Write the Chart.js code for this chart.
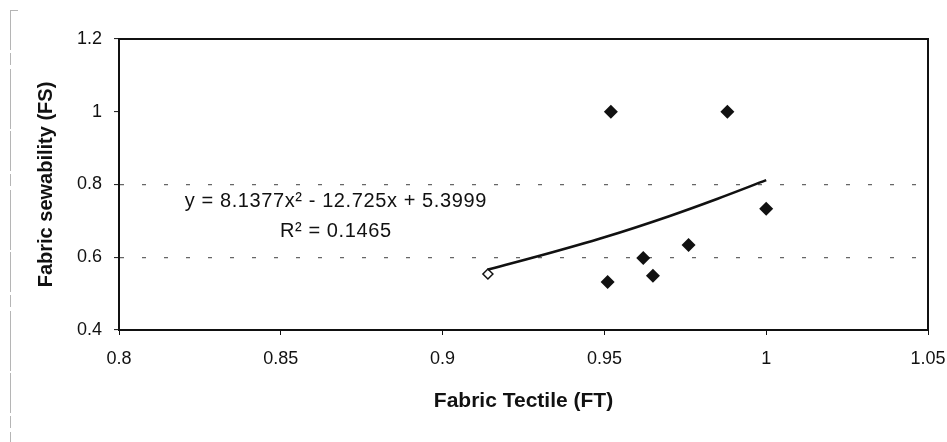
<!DOCTYPE html>
<html><head><meta charset="utf-8">
<script src="https://cdn.jsdelivr.net/npm/chart.js@4/dist/chart.umd.min.js"></script>
<style>html,body{margin:0;padding:0;background:#fff;} #wrap{width:947px;height:442px;position:relative;}</style>
</head><body><div id="wrap"><canvas id="c" width="947" height="442"></canvas></div>
<script>
// ---- data ----
const fabricTectile    = [0.952, 0.988, 1.0, 0.976, 0.965, 0.962, 0.951];
const fabricSewability = [1.0, 1.0, 0.733, 0.634, 0.549, 0.598, 0.532];
const openPointX = [0.914];
const openPointY = [0.554];
const trendX = [0.914, 0.93, 0.95, 0.97, 0.985, 1.0];
const trendY = [0.566, 0.604, 0.655, 0.713, 0.761, 0.812];
const xTickValues = [0.8, 0.85, 0.9, 0.95, 1, 1.05];
const xTickLabels = ['0.8', '0.85', '0.9', '0.95', '1', '1.05'];
const yTickValues = [0.4, 0.6, 0.8, 1.0, 1.2];
const yTickLabels = ['0.4', '0.6', '0.8', '1', '1.2'];
const gridValues = [0.6, 0.8];
const equationLines = ['y = 8.1377x\u00B2 - 12.725x + 5.3999', 'R\u00B2 = 0.1465'];
const xTitle = 'Fabric Tectile (FT)';
const yTitle = 'Fabric sewability (FS)';

const zip = (a, b) => a.map((v, i) => ({x: v, y: b[i]}));
const FONT = '"Liberation Sans", Arial, sans-serif';
const INK = '#111';

const framePlugin = {
  id: 'frame',
  beforeDatasetsDraw(chart) {
    const {ctx, chartArea: a} = chart;
    ctx.save();
    ctx.strokeStyle = INK; ctx.lineWidth = 2;
    ctx.strokeRect(a.left, a.top, a.right - a.left, a.bottom - a.top);
    ctx.restore();
  }
};
const equationPlugin = {
  id: 'equation',
  afterDatasetsDraw(chart) {
    const {ctx, scales: {x, y}} = chart;
    ctx.save();
    ctx.font = '20px ' + FONT; ctx.fillStyle = INK;
    if ('letterSpacing' in ctx) ctx.letterSpacing = '0.6px';
    ctx.textAlign = 'center'; ctx.textBaseline = 'middle';
    const cx = x.getPixelForValue(0.867);
    ctx.fillText(equationLines[0], cx, y.getPixelForValue(0.752));
    ctx.fillText(equationLines[1], cx, y.getPixelForValue(0.672));
    ctx.restore();
  }
};
const scanPlugin = {
  id: 'scan',
  afterDraw(chart) {
    const {ctx} = chart;
    ctx.save();
    ctx.strokeStyle = '#b5b5b5'; ctx.lineWidth = 1;
    ctx.setLineDash([40, 3, 12, 4, 60, 2]);
    ctx.beginPath(); ctx.moveTo(10.5, 10); ctx.lineTo(10.5, 442); ctx.stroke();
    ctx.setLineDash([]);
    ctx.beginPath(); ctx.moveTo(10.5, 10.5); ctx.lineTo(18, 10.5); ctx.stroke();
    ctx.restore();
  }
};

new Chart(document.getElementById('c'), {
  type: 'scatter',
  data: {
    datasets: [
      {
        label: 'trend', data: zip(trendX, trendY), showLine: true,
        borderColor: INK, borderWidth: 2.6, pointRadius: 0, cubicInterpolationMode: 'monotone', fill: false
      },
      {
        label: 'FS', data: zip(fabricTectile, fabricSewability),
        pointStyle: 'rectRot', pointRadius: 7, backgroundColor: INK, borderColor: INK, borderWidth: 0
      },
      {
        label: 'open', data: zip(openPointX, openPointY),
        pointStyle: 'rectRot', pointRadius: 5, backgroundColor: '#fff', borderColor: INK, borderWidth: 1.5
      }
    ]
  },
  options: {
    responsive: false, animation: false, devicePixelRatio: 1,
    layout: {padding: {top: 39, right: 19, left: 0, bottom: 0}},
    plugins: {legend: {display: false}, tooltip: {enabled: false}},
    scales: {
      x: {
        type: 'linear', min: 0.8, max: 1.05,
        afterBuildTicks: s => { s.ticks = xTickValues.map(v => ({value: v})); },
        afterFit: s => { s.height = 112; s.paddingLeft = 0; s.paddingRight = 0; },
        ticks: {callback: (v, i) => xTickLabels[i], font: {family: FONT, size: 18}, color: INK, padding: 13, maxRotation: 0, autoSkip: false},
        grid: {drawOnChartArea: false, drawTicks: true, tickLength: 5, tickColor: INK, tickWidth: 1},
        border: {display: true, color: INK, width: 2},
        title: {display: true, text: xTitle, color: INK, font: {family: FONT, size: 21, weight: 'bold'}, padding: {top: 4, bottom: 28}}
      },
      y: {
        type: 'linear', min: 0.4, max: 1.2,
        afterBuildTicks: s => { s.ticks = yTickValues.map(v => ({value: v})); },
        afterFit: s => { s.width = 119; s.paddingTop = 0; s.paddingBottom = 0; },
        ticks: {callback: (v, i) => yTickLabels[i], font: {family: FONT, size: 18}, color: INK, padding: 12},
        grid: {
          drawOnChartArea: true, drawTicks: true, tickLength: 5, tickColor: INK, tickWidth: 1, lineWidth: 1.2,
          color: c => (c.tick && gridValues.includes(c.tick.value)) ? '#666' : 'rgba(0,0,0,0)'
        },
        border: {display: true, color: INK, width: 2, dash: [4, 18]},
        title: {display: true, text: yTitle, color: INK, font: {family: FONT, size: 20, weight: 'bold'}, padding: {top: 34, bottom: 4}}
      }
    }
  },
  plugins: [framePlugin, equationPlugin, scanPlugin]
});
</script>
</body></html>
